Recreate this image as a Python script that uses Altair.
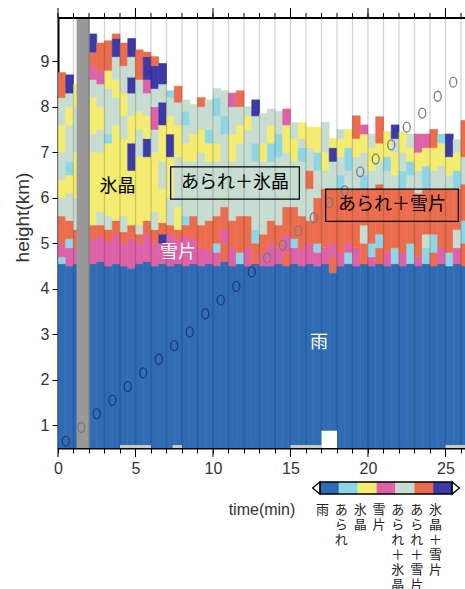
import altair as alt
import pandas as pd

# ---------------- data ----------------
CATS = ["雨", "あられ", "氷晶", "雪片", "あられ＋氷晶", "あられ＋雪片", "氷晶＋雪片"]
CODES = ["R", "H", "I", "S", "G", "O", "N"]
COLORS = ["#2f6cb5", "#8ed6e6", "#f3ec70", "#de62a8", "#c8ddd1", "#ec6c4e", "#3b3aa6"]

Y_MIN = 0.5
COL_STEP = 0.5
COL_STARTS = [0.0, 0.5, 1.0, 2.0, 2.5, 3.0, 3.5, 4.0, 4.5, 5.0, 5.5, 6.0, 6.5, 7.0, 7.5,
              8.0, 8.5, 9.0, 9.5, 10.0, 10.5, 11.0, 11.5, 12.0, 12.5, 13.0, 13.5, 14.0,
              14.5, 15.0, 15.5, 16.0, 16.5, 17.0, 17.5, 18.0, 18.5, 19.0, 19.5, 20.0,
              20.5, 21.0, 21.5, 22.0, 22.5, 23.0, 23.5, 24.0, 24.5, 25.0, 25.5, 26.0]
# class code + top height (km) of each layer, from the ground upward
COL_LAYERS = [
    "R4.55 H4.7 S5.0 O5.6 G6.0 I6.4 G7.0 I7.6 G8.2 O8.75",
    "R4.5 S4.9 H5.1 O5.5 G6.1 I6.5 H6.8 G7.6 I8.0 G8.3 N8.7",
    "R4.55 S4.9 O5.3 G6.0 I7.0 G8.0 I8.5",
    "R4.55 S5.1 O5.4 I7.0 G7.4 I8.2 G8.6 S8.9 O9.2 N9.6",
    "R4.6 S5.15 O5.4 G5.7 I7.0 G7.5 I8.0 G8.5 S8.8 O9.4",
    "R4.5 S5.05 O5.3 G5.6 I7.2 H7.4 G8.4 I8.8 O9.45",
    "R4.55 S5.2 O5.5 I7.6 G8.2 I8.6 G9.1 N9.5 O9.6",
    "R4.5 S5.0 O5.25 G5.6 I7.3 G7.8 I8.3 G8.9 O9.4",
    "R4.45 S5.1 O5.4 I6.6 N7.2 I7.8 G8.3 N8.65 G9.1 N9.5",
    "R4.55 S5.0 O5.2 G5.4 I6.9 G7.5 I7.9 G8.6 O9.25",
    "R4.6 S5.2 O5.5 I6.9 N7.3 I7.8 G8.3 S8.6 N9.1 O9.2",
    "R4.5 S5.0 O5.3 G5.7 I7.0 G7.5 S8.0 G8.4 N8.9 O9.1",
    "R4.55 S5.0 N5.2 O5.45 I6.2 G6.8 I7.6 N8.1 G8.5 N8.95",
    "R4.5 S5.2 O5.4 G6.0 I6.9 N7.4 I7.8 G8.2 H8.35",
    "R4.55 S5.1 O5.3 I5.8 G6.9 I7.6 G8.1 O8.45",
    "R4.5 S5.15 O5.4 H5.6 G6.8 I7.2 G7.6 H7.9 G8.15",
    "R4.55 S5.1 O5.6 G6.8 I7.4 G8.05",
    "R4.5 S4.9 O5.4 G7.0 I7.5 G8.0 O8.2",
    "R4.55 S4.85 O5.5 G6.8 I7.2 H7.5 G8.15",
    "R4.5 S4.8 H5.0 O5.6 G6.8 I7.2 G7.8 H8.2 G8.4",
    "R4.6 O5.0 S5.3 O5.8 G7.4 H7.8 G8.35",
    "R4.5 S4.9 O5.5 G6.8 I7.4 G8.0 S8.3",
    "R4.55 H4.8 O5.6 G7.2 I7.6 G8.0 O8.35",
    "R4.5 S4.9 O5.6 G7.5 I7.8 G8.0",
    "R4.55 O5.0 H5.3 G6.8 H7.2 G7.8 N8.15",
    "R4.5 S4.8 O5.2 G6.8 I7.2 G7.85",
    "R4.5 S5.0 O5.5 G6.8 H7.2 I7.6 G7.95",
    "R4.55 S4.9 O5.4 G6.9 H7.4 G7.9",
    "R4.5 O4.8 S5.2 O5.8 G7.0 I7.6 S7.95",
    "R4.55 S4.9 H5.1 O5.8 G6.8 I7.3 G7.65",
    "R4.5 S4.9 O5.6 G6.8 H7.1 G7.3 I7.65",
    "R4.55 S5.0 O5.5 G6.2 O6.6 G7.1 I7.55",
    "R4.5 S4.8 H5.0 O6.0 G6.6 H7.0 I7.55",
    "R4.55 S4.9 O6.2 G6.6 I7.0 G7.66",
    "R4.35 O4.7 S5.0 O6.2 G6.8 N7.1 I7.3",
    "R4.5 S4.8 O6.2 H6.5 G6.9 I7.3 G7.5",
    "R4.55 H4.8 S5.0 O6.2 G6.6 H7.1 I7.5",
    "R4.5 S4.9 O6.2 G6.9 I7.3 O7.8",
    "R4.55 O5.0 G5.4 O6.2 H6.5 G7.0 I7.4 S7.6",
    "R4.5 S4.7 H5.0 O6.2 G6.6 I7.1 G7.4",
    "R4.55 O4.9 H5.2 O6.3 G6.8 I7.2 O7.78",
    "R4.5 S4.8 O6.2 G6.6 H6.9 I7.46",
    "R4.55 H4.9 O6.2 G6.5 I7.0 G7.3 N7.6",
    "R4.5 S4.8 O6.2 H6.6 G7.0 I7.45",
    "R4.55 H5.0 O6.2 G6.5 H6.8 I7.1 G7.4",
    "R4.5 S4.7 O6.1 G6.6 I7.0 S7.4",
    "R4.55 H4.9 G5.2 O6.2 H6.7 I7.1 S7.4",
    "R4.5 O4.8 H5.2 O6.2 G6.6 I7.1 O7.5",
    "R4.55 S4.9 O6.2 G6.7 I7.2 H7.4",
    "R4.5 H4.8 O6.2 G6.5 I6.9 N7.4",
    "R4.55 S4.9 G5.3 O6.2 H6.6 I7.0 G7.28",
    "R4.5 O5.0 H5.5 O6.3 G6.9 O7.7",
]

MINUTES = list(range(0, 27))
NODATA_T0 = [1.2]
NODATA_T1 = [2.05]

GAP_T0 = [4.0, 7.4, 15.0, 25.0]
GAP_T1 = [6.0, 8.0, 17.0, 26.3]
WHITE_T0, WHITE_T1, WHITE_H1 = [17.0], [18.0], [0.88]

SCAN_T = [0.5, 1.5, 2.5, 3.5, 4.5, 5.5, 6.5, 7.5, 8.5, 9.5, 10.5, 11.5, 12.5,
          13.5, 14.5, 15.5, 16.5, 17.5, 18.5, 19.5, 20.5, 21.5, 22.5, 23.5, 24.5, 25.5]
SCAN_H = [0.65, 0.95, 1.25, 1.55, 1.85, 2.15, 2.45, 2.75, 3.05, 3.45, 3.75, 4.05, 4.37,
          4.68, 4.96, 5.27, 5.56, 5.89, 6.15, 6.57, 6.85, 7.16, 7.55, 7.86, 8.23, 8.54]

LABEL_TEXT = ["氷晶", "あられ＋氷晶", "あられ＋雪片", "雪片", "雨"]
LABEL_T = [3.84, 11.42, 21.55, 7.74, 16.84]
LABEL_H = [6.23, 6.33, 5.83, 4.79, 2.8]
LABEL_COLOR = ["black", "black", "black", "white", "white"]

BOX_T0 = [7.27, 17.27]
BOX_T1 = [15.57, 25.83]
BOX_H0 = [5.97, 5.48]
BOX_H1 = [6.68, 6.19]

# ---------------- tables ----------------
rows = []
for t0, spec in zip(COL_STARTS, COL_LAYERS):
    bottom = Y_MIN
    for tok in spec.split():
        code, top = tok[0], float(tok[1:])
        rows.append(dict(t0=t0, t1=t0 + COL_STEP, h0=bottom, h1=top,
                         cat=CATS[CODES.index(code)]))
        bottom = top
cells = pd.DataFrame(rows)

scan = pd.DataFrame(dict(t=SCAN_T, h=SCAN_H))
in_gap = [(NODATA_T0[0] <= t <= NODATA_T1[0]) for t in SCAN_T]
scan["tone"] = ["gray" if (h > 4.5 or g) else "navy" for h, g in zip(SCAN_H, in_gap)]

minutes = pd.DataFrame(dict(t=MINUTES))
majors = pd.DataFrame(dict(t=[m for m in MINUTES if m % 5 == 0]))
nodata = pd.DataFrame(dict(t0=NODATA_T0, t1=NODATA_T1))
gaps = pd.DataFrame(dict(t0=GAP_T0, t1=GAP_T1))
white = pd.DataFrame(dict(t0=WHITE_T0, t1=WHITE_T1, h1=WHITE_H1))
labels = pd.DataFrame(dict(txt=LABEL_TEXT, t=LABEL_T, h=LABEL_H, col=LABEL_COLOR))
boxes = pd.DataFrame(dict(t0=BOX_T0, t1=BOX_T1, h0=BOX_H0, h1=BOX_H1))

cbar = pd.DataFrame(dict(cat=CATS, i0=list(range(len(CATS))),
                         i1=[i + 1 for i in range(len(CATS))],
                         ic=[i + 0.5 for i in range(len(CATS))],
                         vtxt=["\n".join(list(c)) for c in CATS]))
cbar_ends = pd.DataFrame(dict(p=[-0.2, len(CATS) + 0.2],
                              shp=["M0.6,-1L-0.6,0L0.6,1Z", "M-0.6,-1L0.6,0L-0.6,1Z"]))
cbar_frame = pd.DataFrame(dict(a=[0], b=[len(CATS)]))

# ---------------- scales / axes ----------------
NUM_FONT = "Liberation Sans"
JP_FONT = "Noto Sans CJK JP"
xs = alt.Scale(domain=[0, 26.26], nice=False, zero=False)
ys = alt.Scale(domain=[Y_MIN, 9.95], nice=False, zero=False)
cs = alt.Scale(domain=CATS, range=COLORS)

X_AX = alt.Axis(values=MINUTES, labelExpr="datum.value % 5 === 0 ? datum.label : ''",
                labelOverlap=False, labelFlush=False, labelBound=False, grid=False,
                tickSize=5, tickColor="black", domainColor="black", domainWidth=2,
                labelFont=NUM_FONT, labelFontSize=16, labelColor="#333", labelPadding=7,
                title="time(min)", titleFont=NUM_FONT, titleFontSize=16,
                titleFontWeight="normal", titleColor="#333", titleY=61,
                titleBaseline="middle")
Y_AX = alt.Axis(values=list(range(1, 10)), grid=False, tickSize=6, tickColor="black",
                domainColor="black", domainWidth=2, labelFont=NUM_FONT,
                labelFontSize=16, labelColor="#333", labelPadding=3,
                title="height(km)", titleFont=NUM_FONT, titleFontSize=19,
                titleFontWeight="normal", titleColor="#333", titleX=-36, titleY=199,
                titleAlign="center", titleBaseline="middle", titleAngle=270)


def X(field):
    return alt.X(field, scale=xs, axis=X_AX)


def Y(field):
    return alt.Y(field, scale=ys, axis=Y_AX)


cell_layer = alt.Chart(cells).mark_rect(clip=True, strokeWidth=0.6).encode(
    x=X("t0:Q"), x2="t1:Q", y=Y("h0:Q"), y2="h1:Q",
    color=alt.Color("cat:N", scale=cs, legend=None),
    stroke=alt.Stroke("cat:N", scale=alt.Scale(domain=CATS, range=COLORS), legend=None))

nodata_layer = alt.Chart(nodata).mark_rect(color="#999999").encode(
    x=X("t0:Q"), x2="t1:Q", y=alt.value(0), y2=alt.value(430))

grid_layer = alt.Chart(minutes).mark_rule(color="black", opacity=0.17, strokeWidth=1.3).encode(
    x=X("t:Q"), y=alt.value(0), y2=alt.value(430))

top_minor = alt.Chart(minutes).mark_rule(color="black", strokeWidth=1).encode(
    x=X("t:Q"), y=alt.value(-5), y2=alt.value(0))
top_major = alt.Chart(majors).mark_rule(color="black", strokeWidth=1).encode(
    x=X("t:Q"), y=alt.value(-10), y2=alt.value(0))
bot_major = alt.Chart(majors).mark_rule(color="black", strokeWidth=1).encode(
    x=X("t:Q"), y=alt.value(430), y2=alt.value(439))
top_line = alt.Chart(majors.head(1)).mark_rule(color="black", strokeWidth=2).encode(
    x=alt.value(0), x2=alt.value(407), y=alt.value(0))

gap_layer = alt.Chart(gaps).mark_rect(color="#c8c8c8", clip=True).encode(
    x=X("t0:Q"), x2="t1:Q", y=alt.value(427), y2=alt.value(430))
white_layer = alt.Chart(white).mark_rect(color="white").encode(
    x=X("t0:Q"), x2="t1:Q", y=Y("h1:Q"), y2=alt.value(430))

ELLIPSE = "M0,-1A0.7,1 0 1,1 0,1A0.7,1 0 1,1 0,-1Z"
scan_navy = alt.Chart(scan).transform_filter(alt.datum.tone == "navy").mark_point(
    shape=ELLIPSE, size=100, filled=False, strokeWidth=1.3, color="#26357f", opacity=1).encode(
    x=X("t:Q"), y=Y("h:Q"))
scan_gray = alt.Chart(scan).transform_filter(alt.datum.tone == "gray").mark_point(
    shape=ELLIPSE, size=100, filled=False, strokeWidth=1.3, color="#7a7a7a", opacity=1).encode(
    x=X("t:Q"), y=Y("h:Q"))

box_layer = alt.Chart(boxes).mark_rect(fillOpacity=0, stroke="black", strokeWidth=1.2).encode(
    x=X("t0:Q"), x2="t1:Q", y=Y("h0:Q"), y2="h1:Q")

text_layer = alt.Chart(labels).mark_text(font=JP_FONT, fontSize=18).encode(
    x=X("t:Q"), y=Y("h:Q"), text="txt:N",
    color=alt.Color("col:N", scale=None))

main = alt.layer(cell_layer, nodata_layer, grid_layer, gap_layer, white_layer,
                 top_minor, top_major, bot_major, top_line, scan_navy, scan_gray,
                 box_layer, text_layer)

# ---------------- colour bar ----------------
cxs = alt.Scale(domain=[0, len(CATS)], range=[262, 394], nice=False, zero=False)
cb_rects = alt.Chart(cbar).mark_rect().encode(
    x=alt.X("i0:Q", scale=cxs, axis=None), x2="i1:Q",
    y=alt.value(464), y2=alt.value(476),
    color=alt.Color("cat:N", scale=cs, legend=None))
cb_frame = alt.Chart(cbar_frame).mark_rect(fillOpacity=0, stroke="black", strokeWidth=1.5).encode(
    x=alt.X("a:Q", scale=cxs, axis=None), x2="b:Q", y=alt.value(464), y2=alt.value(476))
cb_ends = alt.Chart(cbar_ends).mark_point(filled=True, fill="white", stroke="black",
                                          strokeWidth=1.3, size=144, opacity=1).encode(
    x=alt.X("p:Q", scale=cxs, axis=None), y=alt.value(470),
    shape=alt.Shape("shp:N", scale=None))
cb_text = alt.Chart(cbar).mark_text(font=JP_FONT, fontSize=13, lineBreak="\n",
                                    lineHeight=15, baseline="top", dx=-7,
                                    color="#222").encode(
    x=alt.X("ic:Q", scale=cxs, axis=None), y=alt.value(486), text="vtxt:N")
bar = alt.layer(cb_rects, cb_frame, cb_ends, cb_text)

chart = alt.layer(main, bar).resolve_scale(x="independent", y="independent").properties(
    width=407, height=430,
    autosize=alt.AutoSizeParams(type="none"),
    padding={"left": 58, "top": 18, "right": 0, "bottom": 141},
).configure_view(stroke=None).configure(background="white")

chart.save("out.html", embed_options={"renderer": "svg", "actions": False})
